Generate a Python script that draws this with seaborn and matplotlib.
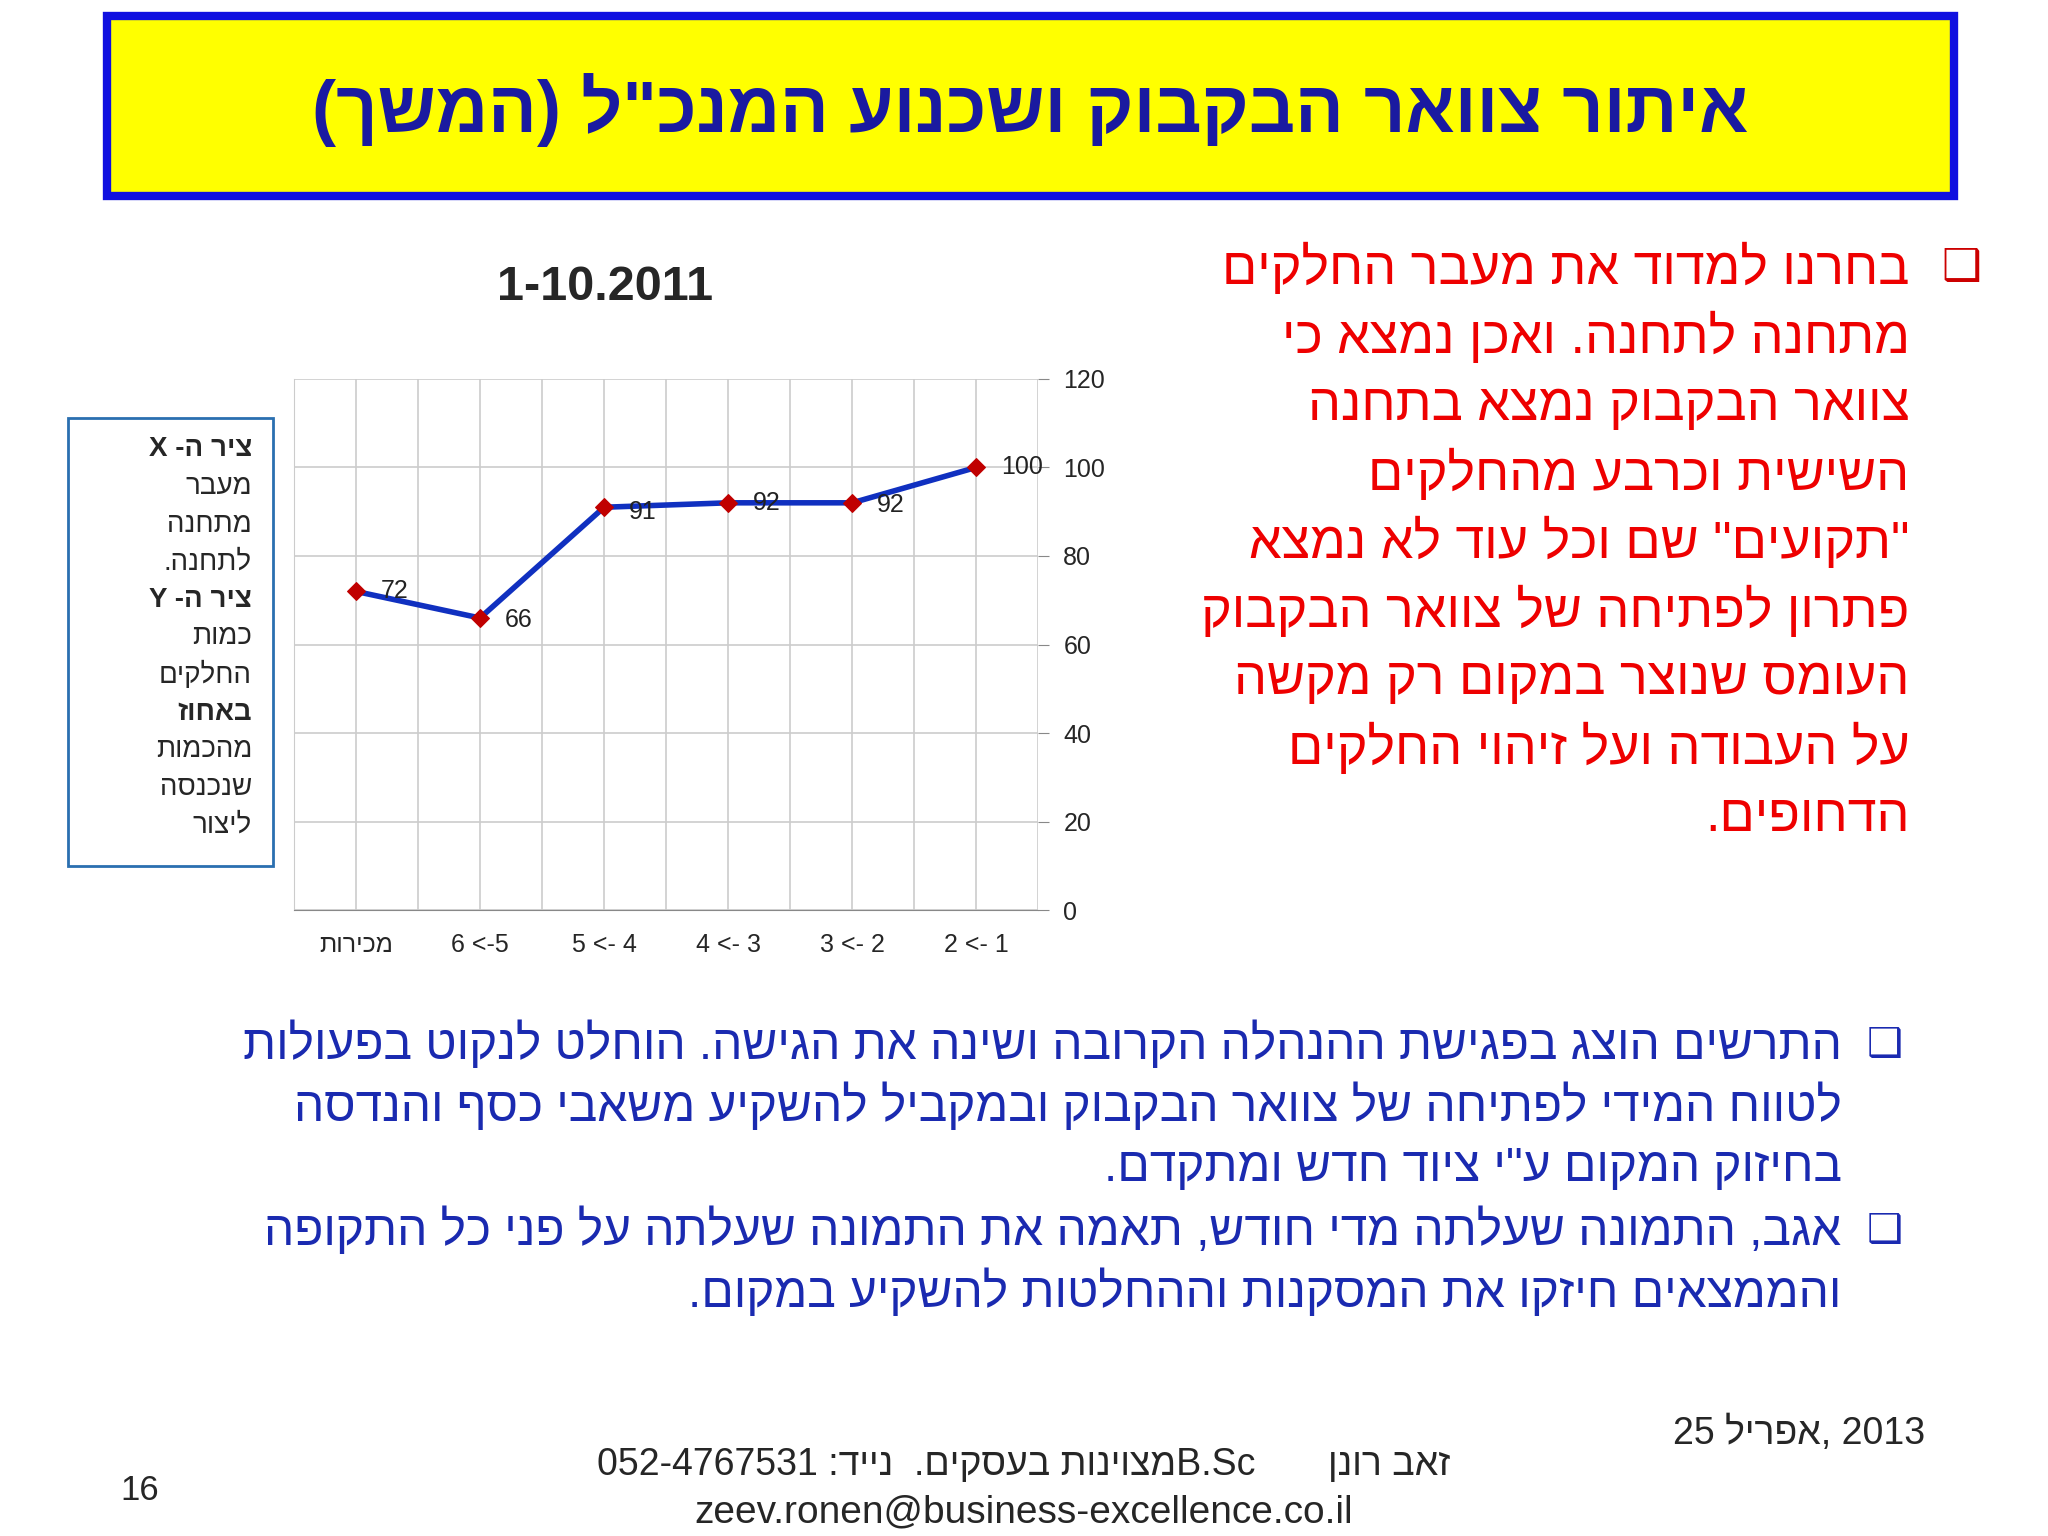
import re
import matplotlib
matplotlib.use("Agg")
import matplotlib.pyplot as plt
import seaborn as sns
import pandas as pd
from matplotlib.patches import Rectangle

sns.set_style("white")
plt.rcParams['font.family'] = ['Liberation Sans', 'DejaVu Sans']

MIRROR = {'(': ')', ')': '('}


def vis(s):
    # crude RTL -> visual order for matplotlib
    r = ''.join(MIRROR.get(c, c) for c in s[::-1])
    return re.sub(r'[A-Za-z0-9][A-Za-z0-9.\-]*[A-Za-z0-9]', lambda m: m.group(0)[::-1], r)


# data
stations = [vis("מכירות"), "6 <-5", "5 <- 4", "4 <- 3", "3 <- 2", "2 <- 1"]
flow_pct = [72, 66, 91, 92, 92, 100]

title = 'איתור צוואר הבקבוק ושכנוע המנכ"ל (המשך)'
red_lines = ["בחרנו למדוד את מעבר החלקים", "מתחנה לתחנה. ואכן נמצא כי",
             "צוואר הבקבוק נמצא בתחנה", "השישית וכרבע מהחלקים",
             '"תקועים" שם וכל עוד לא נמצא', "פתרון לפתיחה של צוואר הבקבוק",
             "העומס שנוצר במקום רק מקשה", "על העבודה ועל זיהוי החלקים", "הדחופים."]
box_lines = ["ציר ה- X", "מעבר", "מתחנה", "לתחנה.", "ציר ה- Y", "כמות",
             "החלקים", "באחוז", "מהכמות", "שנכנסה", "ליצור"]
box_bold = [0, 4, 7]
blue_lines = ["התרשים הוצג בפגישת ההנהלה הקרובה ושינה את הגישה. הוחלט לנקוט בפעולות",
              "לטווח המידי לפתיחה של צוואר הבקבוק ובמקביל להשקיע משאבי כסף והנדסה",
              'בחיזוק המקום ע"י ציוד חדש ומתקדם.',
              "אגב, התמונה שעלתה מדי חודש, תאמה את התמונה שעלתה על פני כל התקופה",
              "והממצאים חיזקו את המסקנות וההחלטות להשקיע במקום."]

W, H = 1568, 1176
fig = plt.figure(figsize=(20.48, 15.36), dpi=100)


def fx(x):
    return x / W


def fy(y):
    return 1 - y / H


# title banner
fig.patches.append(Rectangle((fx(82), fy(150)), fx(1496 - 82), (138) / H, transform=fig.transFigure,
                             facecolor='#ffff00', edgecolor='#1010e0', linewidth=6))
fig.text(fx(789), fy(84), vis(title), ha='center', va='center', fontsize=52, fontweight='bold', color='#1a1aa0')

# chart
ax = fig.add_axes([fx(225), fy(697), fx(795 - 225), (697 - 290) / H])
df = pd.DataFrame({'station': stations, 'pct': flow_pct})
df['pos'] = range(len(df))
sns.lineplot(data=df, x='pos', y='pct', ax=ax, color='#1030c0', linewidth=4,
             marker='D', markersize=9, markerfacecolor='#c00000', markeredgecolor='#c00000')
ax.set_xlim(-0.5, 5.5)
ax.set_ylim(0, 120)
ax.yaxis.tick_right()
ax.set_yticks(range(0, 121, 20))
ax.set_xticks(df['pos'])
ax.set_xticklabels(stations)
ax.set_xticks([i - 0.5 for i in range(7)], minor=True)
ax.tick_params(axis='x', which='major', length=0, labelsize=18, pad=16)
ax.tick_params(axis='x', which='minor', length=8, color='#888888')
ax.tick_params(axis='y', length=8, color='#888888', labelsize=18, pad=10)
ax.grid(True, which='both', color='#cccccc', linewidth=1.2)
ax.set_xlabel('')
ax.set_ylabel('')
for s in ['top', 'right']:
    ax.spines[s].set_visible(False)
ax.spines['left'].set_color('#cccccc')
ax.spines['bottom'].set_color('#888888')
offs = [(0.2, 0), (0.2, -0.5), (0.2, -1), (0.2, 0), (0.2, -0.5), (0.2, 0)]
for (p, v), (dx, dy) in zip(zip(df['pos'], df['pct']), offs):
    ax.text(p + dx, v + dy, str(v), fontsize=18, va='center', ha='left', color='#222222')
fig.text(fx(463), fy(220), "1-10.2011", ha='center', va='center', fontsize=35, fontweight='bold')

# axis explanation box
fig.patches.append(Rectangle((fx(52), fy(663)), fx(209 - 52), (663 - 320) / H, transform=fig.transFigure,
                             facecolor='white', edgecolor='#2a6fb0', linewidth=2))
for i, t in enumerate(box_lines):
    fig.text(fx(193), fy(344 + i * 28.8), vis(t), ha='right', va='center', fontsize=20,
             fontweight='bold' if i in box_bold else 'normal')

# red text
fig.text(fx(1502), fy(205), '❑', ha='center', va='center', fontsize=32, color='#cc0000', family='DejaVu Sans')
for i, t in enumerate(red_lines):
    fig.text(fx(1462), fy(206 + i * 52.5), vis(t), ha='right', va='center', fontsize=37.5, color='#ee0000')

# blue text
bullets = [0, 3]
for i, t in enumerate(blue_lines):
    y = fy(800 + i * 47.5)
    fig.text(fx(1410), y, vis(t), ha='right', va='center', fontsize=34.5, color='#1a2ab0')
    if i in bullets:
        fig.text(fx(1443), y, '❑', ha='center', va='center', fontsize=29, color='#1a2ab0', family='DejaVu Sans')

# footer
fig.text(fx(1474), fy(1098), "25 " + vis("אפריל") + ", 2013", ha='right', va='center', fontsize=27)
fig.text(fx(784), fy(1122), "052-4767531 :" + vis("נייד") + "  ." + vis("מצוינות בעסקים") + "B.Sc       " + vis("זאב רונן"),
         ha='center', va='center', fontsize=27)
fig.text(fx(784), fy(1158), "zeev.ronen@business-excellence.co.il", ha='center', va='center', fontsize=28)
fig.text(fx(107), fy(1141), "16", ha='center', va='center', fontsize=25)

fig.savefig("out.png", dpi=100)
